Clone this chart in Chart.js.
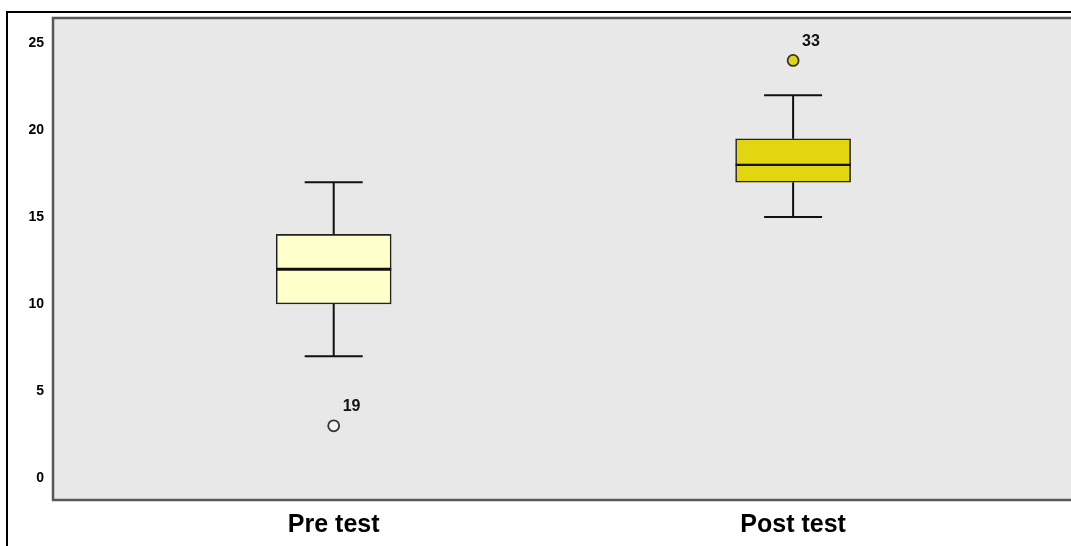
<!DOCTYPE html>
<html>
<head>
<meta charset="utf-8">
<script src="https://cdn.jsdelivr.net/npm/chart.js@4"></script>
<style>
  html, body { margin: 0; padding: 0; background: #fff; overflow: hidden; }
  #wrap { position: absolute; left: 0; top: 0; width: 1071px; height: 546px; }
</style>
</head>
<body>
<div id="wrap"><canvas id="c" width="1071" height="546"></canvas></div>
<script>
const categories = ['Pre test', 'Post test'];
const whiskerLow = [7, 15];
const q1 = [10, 17];
const median = [12, 18];
const q3 = [14, 19.5];
const whiskerHigh = [17, 22];
const outlierValues = [3, 24];
const outlierLabels = ['19', '33'];
const yTicks = [0, 5, 10, 15, 20, 25];

const boxFill = ['#ffffcc', '#e1d60f'];
const outlierFill = ['#f2f2f2', '#e1d60f'];
const positions = categories.map((_, i) => i + 1);

const boxPlugin = {
  id: 'boxExtras',
  beforeDraw(chart) {
    const { ctx, chartArea: a } = chart;
    ctx.save();
    ctx.fillStyle = '#e8e8e8';
    ctx.fillRect(a.left, a.top, a.right - a.left + 20, a.bottom - a.top);
    ctx.restore();
  },
  beforeDatasetsDraw(chart) {
    const { ctx, chartArea: a } = chart;
    ctx.save();
    ctx.strokeStyle = '#585858';
    ctx.lineWidth = 2.5;
    ctx.beginPath();
    ctx.moveTo(a.right + 20, a.top);
    ctx.lineTo(a.left, a.top);
    ctx.lineTo(a.left, a.bottom);
    ctx.lineTo(a.right + 20, a.bottom);
    ctx.stroke();
    ctx.restore();
  },
  afterDatasetsDraw(chart) {
    const { ctx } = chart;
    const xs = chart.scales.x, ys = chart.scales.y;
    ctx.save();
    ctx.strokeStyle = '#111';
    ctx.lineCap = 'butt';
    positions.forEach((p, i) => {
      const cx = xs.getPixelForValue(p);
      const half = 29;
      ctx.lineWidth = 2;
      ctx.beginPath();
      ctx.moveTo(cx, ys.getPixelForValue(q3[i]));
      ctx.lineTo(cx, ys.getPixelForValue(whiskerHigh[i]));
      ctx.moveTo(cx - half, ys.getPixelForValue(whiskerHigh[i]));
      ctx.lineTo(cx + half, ys.getPixelForValue(whiskerHigh[i]));
      ctx.moveTo(cx, ys.getPixelForValue(q1[i]));
      ctx.lineTo(cx, ys.getPixelForValue(whiskerLow[i]));
      ctx.moveTo(cx - half, ys.getPixelForValue(whiskerLow[i]));
      ctx.lineTo(cx + half, ys.getPixelForValue(whiskerLow[i]));
      ctx.stroke();
      ctx.lineWidth = i === 0 ? 3 : 2.2;
      ctx.beginPath();
      ctx.moveTo(cx - 57.5, ys.getPixelForValue(median[i]));
      ctx.lineTo(cx + 57.5, ys.getPixelForValue(median[i]));
      ctx.stroke();
      ctx.fillStyle = '#111';
      ctx.font = 'bold 16px "Liberation Sans", Arial, sans-serif';
      ctx.textAlign = 'left';
      ctx.textBaseline = 'middle';
      ctx.fillText(outlierLabels[i], cx + 9, ys.getPixelForValue(outlierValues[i]) - 19);
    });
    ctx.restore();
  },
  afterDraw(chart) {
    const { ctx } = chart;
    ctx.save();
    ctx.strokeStyle = '#000';
    ctx.lineWidth = 2;
    ctx.beginPath();
    ctx.moveTo(7, 560);
    ctx.lineTo(7, 12);
    ctx.lineTo(1080, 12);
    ctx.stroke();
    ctx.restore();
  }
};

new Chart(document.getElementById('c'), {
  data: {
    datasets: [
      {
        type: 'bar',
        data: positions.map((p, i) => ({ x: p, y: [q1[i], q3[i]] })),
        backgroundColor: boxFill,
        borderColor: '#222',
        borderWidth: 1.6,
        borderSkipped: false,
        barThickness: 115,
        order: 2
      },
      {
        type: 'scatter',
        data: positions.map((p, i) => ({ x: p, y: outlierValues[i] })),
        backgroundColor: outlierFill,
        borderColor: '#333',
        borderWidth: 1.8,
        pointRadius: 5.5,
        order: 1
      }
    ]
  },
  options: {
    responsive: false,
    animation: false,
    layout: { padding: { top: 18, right: 0, left: 0, bottom: 0 } },
    plugins: { legend: { display: false }, tooltip: { enabled: false } },
    scales: {
      x: {
        type: 'linear',
        offset: false,
        min: 0.389,
        max: 2.589,
        grid: { display: false, drawTicks: false, offset: false },
        border: { display: false },
        afterBuildTicks(scale) { scale.ticks = positions.map(v => ({ value: v })); },
        afterFit(scale) { scale.height = 46; scale.paddingLeft = 0; scale.paddingRight = 0; },
        ticks: {
          autoSkip: false,
          maxRotation: 0,
          padding: 10,
          color: '#000',
          font: { family: '"Liberation Sans", Arial, sans-serif', size: 25, weight: 'bold' },
          callback: (v) => categories[positions.indexOf(v)] ?? ''
        }
      },
      y: {
        type: 'linear',
        min: -1.264,
        max: 26.44,
        grid: { display: false, drawTicks: false },
        border: { display: false },
        afterBuildTicks(scale) { scale.ticks = yTicks.map(v => ({ value: v })); },
        afterFit(scale) { scale.width = 53; scale.paddingTop = 0; scale.paddingBottom = 0; },
        ticks: {
          padding: 9,
          color: '#000',
          font: { family: '"Liberation Sans", Arial, sans-serif', size: 14, weight: 'bold' }
        }
      }
    }
  },
  plugins: [boxPlugin]
});
</script>
</body>
</html>
